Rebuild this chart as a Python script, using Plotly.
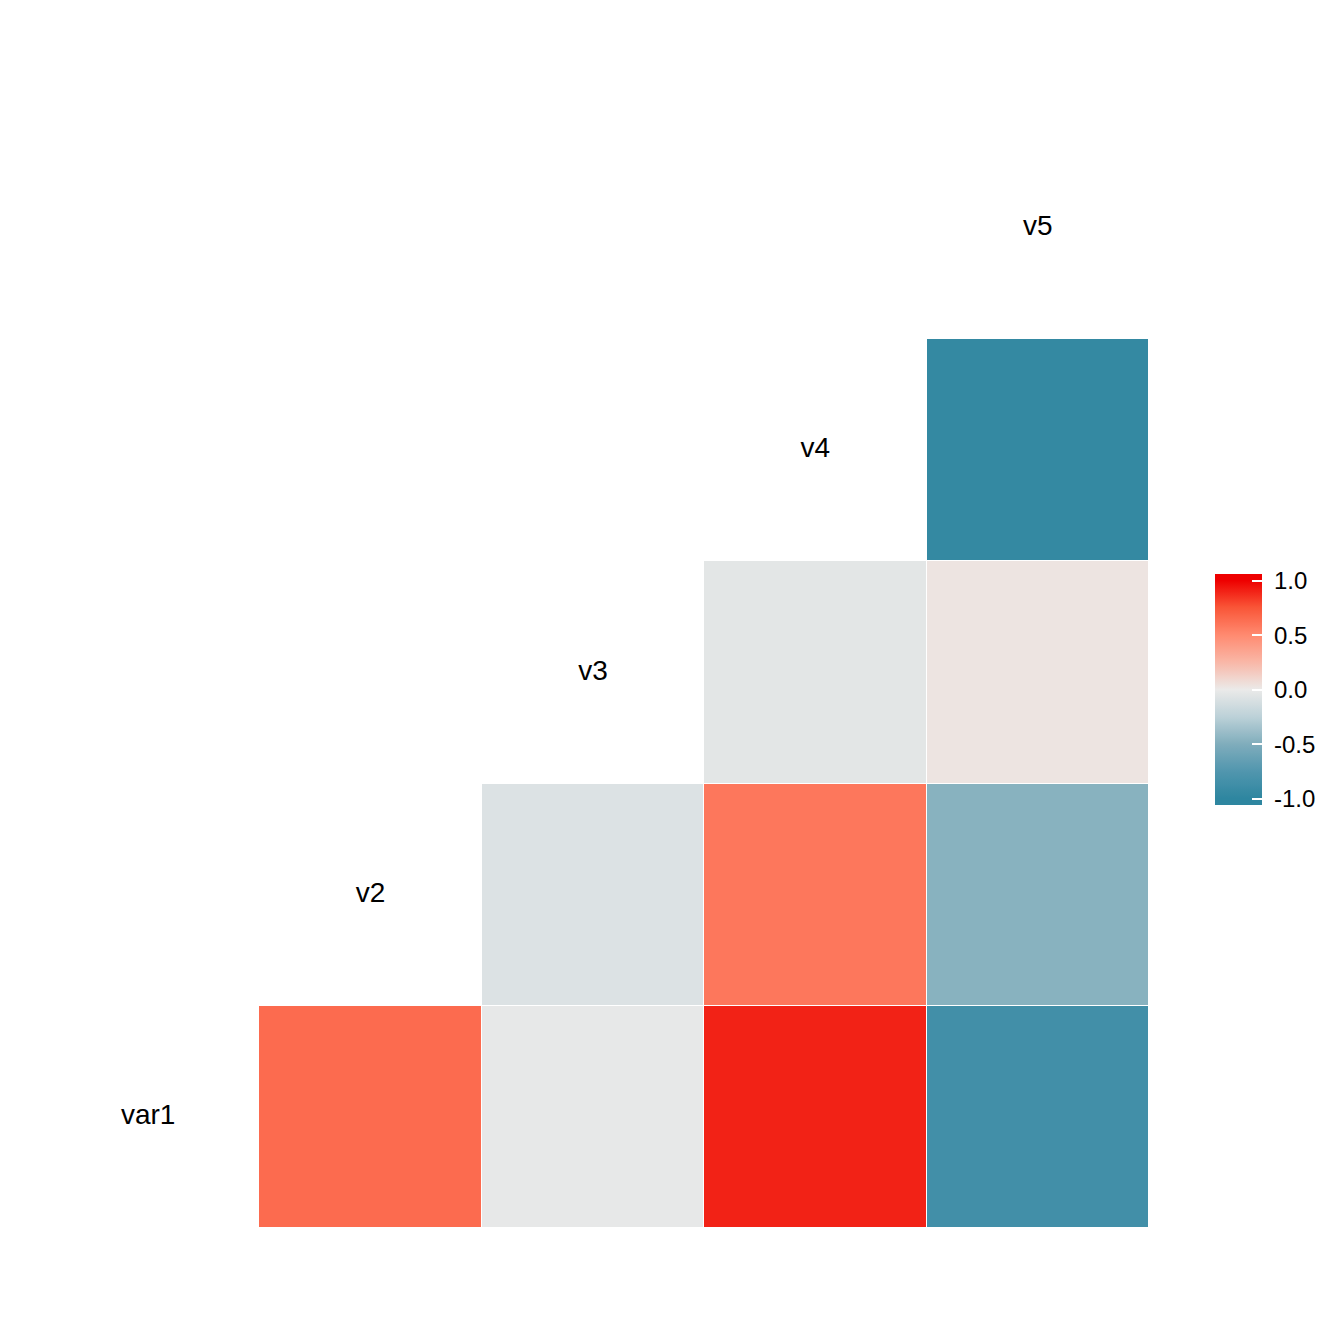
import plotly.graph_objects as go
import numpy as np

# ---- data ----
variables = ["var1", "v2", "v3", "v4", "v5"]
row_var1 = [None, 0.65, -0.02, 0.90, -0.86]
row_v2 = [None, None, -0.08, 0.59, -0.47]
row_v3 = [None, None, None, -0.04, 0.03]
row_v4 = [None, None, None, None, -0.96]
row_v5 = [None, None, None, None, None]
tick_vals = [-1.0, -0.5, 0.0, 0.5, 1.0]
tick_text = ["-1.0", "-0.5", "0.0", "0.5", "1.0"]

scale_vals = [-1.0, -0.75, -0.5, -0.25, 0.0, 0.25, 0.5, 0.75, 1.0]
scale_cols = ["#2E86A0", "#5196AE", "#80ADBC", "#BCD1D8", "#EBEAE9",
              "#F9B7A7", "#FF8A70", "#F95638", "#EE0000"]
LIM = 1.06  # legend bar slightly longer than the tick span, like ggplot


def hex2rgb(h):
    h = h.lstrip("#")
    return np.array([int(h[i:i + 2], 16) for i in (0, 2, 4)], dtype=float)


def color_at(v):
    v = min(max(v, -1.0), 1.0)
    for i in range(len(scale_vals) - 1):
        a, b = scale_vals[i], scale_vals[i + 1]
        if a <= v <= b:
            t = (v - a) / (b - a)
            c = hex2rgb(scale_cols[i]) * (1 - t) + hex2rgb(scale_cols[i + 1]) * t
            r, g, bl = c.round().astype(int)
            return f"rgb({r},{g},{bl})"
    return scale_cols[-1]


colorscale = []
n = 106
for i in range(n + 1):
    t = i / n
    v = -LIM + 2 * LIM * t
    colorscale.append([t, color_at(v)])

z = [row_var1, row_v2, row_v3, row_v4, row_v5]
pos = list(range(1, len(variables) + 1))

FONT = "Liberation Sans, Arial, Helvetica"

fig = go.Figure()
fig.add_trace(go.Heatmap(
    x=pos, y=pos, z=z,
    zmin=-LIM, zmax=LIM,
    colorscale=colorscale,
    xgap=1, ygap=1,
    hoverongaps=False,
    colorbar=dict(
        x=1.0594, xanchor="left",
        y=0.4843, yanchor="middle",
        len=231, lenmode="pixels",
        thickness=47, thicknessmode="pixels",
        outlinewidth=0,
        tickvals=tick_vals,
        ticktext=["\u00a0" + t for t in tick_text],
        ticks="inside", ticklen=10, tickcolor="white", tickwidth=1.5,
        tickfont=dict(family=FONT, size=24, color="black"),
        xpad=0, ypad=0,
    ),
))
fig.add_trace(go.Scatter(
    x=pos, y=pos, text=variables, mode="text",
    textfont=dict(family=FONT, size=28, color="black"),
    hoverinfo="skip", showlegend=False,
))

fig.update_xaxes(range=[0.5, 5.5], visible=False, showgrid=False, zeroline=False)
fig.update_yaxes(range=[0.5, 5.5], visible=False, showgrid=False, zeroline=False)
fig.update_layout(
    width=1344, height=1344,
    margin=dict(l=29, r=203, t=109, b=124),
    plot_bgcolor="white", paper_bgcolor="white",
    showlegend=False,
)
fig.write_html("out.html")
